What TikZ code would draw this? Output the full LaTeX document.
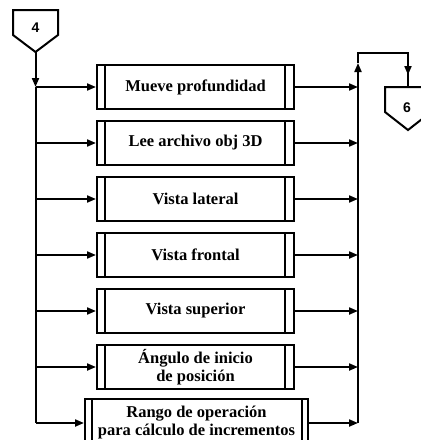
\documentclass[tikz,border=0pt]{standalone}
\usepackage{fontspec}
\setmainfont{Liberation Serif}
\newfontfamily\digitfont{Liberation Sans}
\usetikzlibrary{arrows.meta}
\begin{document}
\begin{tikzpicture}[x=1pt,y=-1pt,
  ln/.style={line width=2pt},
  arr/.style={ln,-{Triangle[length=9pt,width=7pt]}},
  procbox/.style={draw,line width=2pt,minimum width=197pt,minimum height=44pt,inner sep=0pt,
    font=\bfseries\fontsize{16.5}{18}\selectfont,align=center,
    path picture={\draw[line width=2pt]
      ([xshift=8pt]path picture bounding box.north west) -- ([xshift=8pt]path picture bounding box.south west)
      ([xshift=-9pt]path picture bounding box.north east) -- ([xshift=-9pt]path picture bounding box.south east);}},
  widebox/.style={procbox,minimum width=223pt,minimum height=48pt,
    path picture={\draw[line width=2pt]
      ([xshift=7pt]path picture bounding box.north west) -- ([xshift=7pt]path picture bounding box.south west)
      ([xshift=-6pt]path picture bounding box.north east) -- ([xshift=-6pt]path picture bounding box.south east);}},
  conn/.style={draw,line width=2pt,fill=white},
  digit/.style={font=\digitfont\bfseries\fontsize{14}{14}\selectfont,inner sep=0pt}
]
\clip (0,0) rectangle (421,440);
\fill[white] (0,0) rectangle (421,440);

% off-page connectors
\draw[conn] (13,10) -- (58,10) -- (58,35) -- (35.5,52) -- (13,35) -- cycle;
\node[digit] (c4) at (35.5,28) {4};
\coordinate (c4p) at (35.5,52);

\draw[conn] (385,87) -- (431,87) -- (431,112) -- (408,130) -- (385,112) -- cycle;
\node[digit] (c6) at (407,108) {6};
\coordinate (c6t) at (408,87);

% process boxes
\node[procbox] (m1) at (195.5,87) {Mueve profundidad};
\node[procbox] (m2) at (195.5,143) {Lee archivo obj 3D};
\node[procbox] (m3) at (195.5,199) {Vista lateral};
\node[procbox] (m4) at (195.5,255) {Vista frontal};
\node[procbox] (m5) at (195.5,311) {Vista superior};
\node[procbox] (m6) at (195.5,367) {Ángulo de inicio\\de posición};
\node[widebox] (m7) at (196.5,423) {Rango de operación\\para cálculo de incrementos};

% junction coordinates
\foreach \i/\y in {1/87,2/143,3/199,4/255,5/311,6/367,7/423}{
  \coordinate (l\i) at (35.5,\y);
  \coordinate (r\i) at (358,\y);
}
\coordinate (rarr) at (358,63);
\coordinate (rtop) at (358,53);
\coordinate (ctop) at (408,53);
\coordinate (darr) at (408,75);

% left bus
\draw[arr] (c4p) -- (l1);
\draw[ln] (l1) -- (l7);
\foreach \i in {1,...,7}{
  \draw[arr] (l\i) -- (m\i.west);
  \draw[arr] (m\i.east) -- (r\i);
}

% right bus
\draw[arr] (r7) -- (rarr);
\draw[ln] (rarr) -- (rtop) -- (ctop) -- (darr);
\draw[arr] (ctop) -- (darr);
\draw[ln] (darr) -- (c6t);
\end{tikzpicture}
\end{document}
